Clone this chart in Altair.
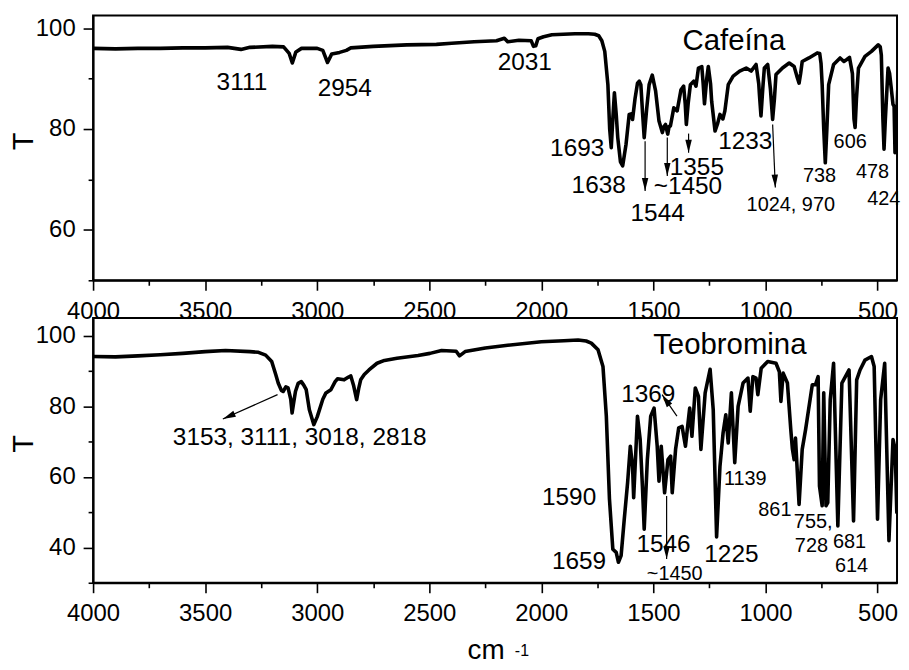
import altair as alt
import pandas as pd

FONT = "Liberation Sans"

# ---------------- data ----------------
caf_wn = [4000, 3900, 3800, 3700, 3600, 3500, 3400, 3340, 3300, 3200, 3150, 3125, 3111, 3095, 3070,
          3000, 2975, 2954, 2935, 2900, 2870, 2850, 2750, 2600, 2468, 2400, 2300, 2200, 2165, 2150,
          2100, 2045, 2035, 2025, 2015, 1990, 1953, 1850, 1790, 1762, 1744, 1730, 1717, 1703, 1695,
          1688, 1681, 1674, 1666, 1659, 1647, 1637, 1629, 1622, 1608, 1600, 1593, 1582, 1571, 1563,
          1556, 1548, 1541, 1530, 1519, 1505, 1490, 1475, 1460, 1453, 1446, 1436, 1430, 1424, 1409,
          1394, 1377, 1365, 1358, 1353, 1345, 1335, 1320, 1310, 1299, 1284, 1278, 1272, 1262, 1255,
          1245, 1240, 1225, 1214, 1203, 1190, 1181, 1166, 1144, 1115, 1086, 1064, 1042, 1030, 1027,
          1020, 1012, 1005, 990, 978, 968, 960, 953, 924, 894, 872, 860, 850, 843, 836,
          806, 769, 758, 752, 747, 740, 733, 726, 718, 696, 667, 650, 637, 625, 612,
          605, 600, 594, 585, 556, 527, 497, 488, 483, 476, 471, 465, 453, 446, 439,
          431, 426, 422, 416, 410]
caf_T = [96.0, 95.9, 96.0, 96.0, 96.1, 96.1, 96.2, 95.8, 96.2, 96.4, 96.3, 95.0, 93.1, 95.3, 96.0,
         96.0, 95.6, 93.2, 94.9, 95.2, 95.6, 96.1, 96.4, 96.7, 96.8, 97.0, 97.3, 97.5, 98.0, 97.3,
         97.6, 97.5, 96.4, 96.5, 97.9, 98.3, 98.7, 98.9, 98.9, 98.8, 98.5, 97.5, 95.4, 88.8, 80.0,
         76.3, 82.0, 87.2, 83.0, 78.3, 73.5, 72.7, 75.0, 77.0, 82.9, 83.0, 81.9, 86.0, 89.1, 89.5,
         88.8, 83.0, 78.3, 84.0, 88.8, 90.7, 87.5, 81.6, 79.3, 80.5, 80.9, 79.0, 80.5, 80.6, 84.2,
         83.6, 87.8, 88.5, 85.0, 80.9, 85.0, 88.8, 89.5, 88.5, 92.1, 92.4, 89.0, 85.0, 90.0, 92.4,
         89.0, 85.5, 79.6, 81.0, 82.9, 82.0, 83.6, 88.8, 90.5, 91.5, 92.1, 91.5, 92.8, 89.0, 86.9,
         82.6, 88.0, 92.1, 92.8, 88.0, 81.9, 86.0, 90.8, 92.1, 93.1, 92.4, 90.5, 89.1, 91.0, 93.4,
         94.1, 95.1, 95.0, 93.0, 88.8, 80.0, 73.3, 80.0, 88.8, 92.8, 94.1, 93.4, 93.8, 94.2, 91.0,
         82.0, 80.3, 86.0, 92.1, 94.4, 95.4, 96.7, 96.3, 94.7, 82.0, 76.0, 82.0, 92.1, 91.0, 88.2,
         84.9, 84.5, 75.3, 80.0, 87.7]

teo_wn = [4000, 3900, 3800, 3700, 3600, 3500, 3409, 3300, 3262, 3230, 3203, 3185, 3174, 3160, 3152,
          3140, 3130, 3118, 3112, 3105, 3097, 3085, 3071, 3060, 3049, 3035, 3015, 3000, 2990, 2975,
          2961, 2939, 2920, 2909, 2880, 2860, 2850, 2838, 2824, 2815, 2806, 2790, 2769, 2733, 2700,
          2644, 2550, 2497, 2445, 2380, 2365, 2340, 2250, 2150, 2000, 1900, 1836, 1800, 1777, 1747,
          1725, 1710, 1696, 1681, 1666, 1656, 1644, 1630, 1615, 1603, 1593, 1588, 1580, 1571, 1559,
          1549, 1541, 1527, 1512, 1497, 1483, 1475, 1465, 1450, 1435, 1423, 1416, 1401, 1387, 1372,
          1357, 1338, 1328, 1313, 1299, 1288, 1269, 1247, 1233, 1218, 1203, 1189, 1177, 1166, 1152,
          1137, 1122, 1100, 1078, 1068, 1056, 1042, 1034, 1019, 990, 953, 938, 931, 921, 902,
          887, 880, 872, 866, 850, 836, 821, 791, 777, 765, 759, 747, 740, 730, 722,
          711, 696, 677, 659, 627, 607, 593, 578, 556, 527, 515, 500, 486, 468, 449,
          431, 421, 414, 405]
teo_T = [94.1, 94.0, 94.3, 94.6, 95.0, 95.5, 95.8, 95.5, 95.3, 94.5, 92.7, 89.0, 86.6, 84.5, 84.2,
         85.5, 85.2, 82.0, 78.1, 81.0, 84.2, 86.5, 87.0, 86.0, 84.7, 79.0, 74.8, 77.0, 79.0, 82.0,
         83.8, 84.7, 87.0, 87.8, 87.5, 88.3, 88.6, 86.0, 81.9, 85.0, 87.5, 89.0, 90.3, 92.2, 93.0,
         93.6, 94.4, 95.0, 95.8, 95.6, 94.3, 95.5, 96.5, 97.3, 98.3, 98.6, 98.8, 98.5, 97.9, 96.0,
         91.3, 77.2, 53.7, 39.5, 38.6, 35.8, 37.7, 48.0, 58.4, 68.7, 63.0, 54.1, 65.0, 77.2, 70.6,
         57.4, 45.2, 64.9, 77.2, 79.5, 68.7, 58.8, 68.7, 55.5, 64.9, 65.9, 55.5, 67.8, 73.9, 74.3,
         68.7, 79.5, 71.5, 85.2, 82.8, 67.8, 83.8, 90.5, 79.0, 43.0, 63.0, 72.5, 77.6, 69.6, 83.8,
         64.0, 80.0, 86.6, 88.0, 78.6, 88.4, 88.0, 83.3, 90.8, 92.7, 92.2, 89.8, 81.4, 89.4, 86.6,
         73.4, 68.0, 64.9, 71.0, 52.2, 67.8, 73.4, 86.1, 86.1, 88.4, 57.4, 51.8, 83.8, 51.8, 52.7,
         81.9, 92.2, 46.1, 86.6, 90.3, 47.5, 87.5, 90.3, 93.1, 94.1, 91.3, 48.0, 81.9, 92.2, 41.9,
         70.6, 67.8, 49.9, 77.2]

x_major = [4000, 3500, 3000, 2500, 2000, 1500, 1000, 500]
x_minor = [3750, 3250, 2750, 2250, 1750, 1250, 750]

caf_y_domain = [50, 102.5]
caf_y_major = [60, 80, 100]
caf_y_minor = [50, 70, 90]
teo_y_domain = [30, 105]
teo_y_major = [40, 60, 80, 100]
teo_y_minor = [30, 50, 70, 90]

caf_lab_text = ["3111", "2954", "2031", "Cafeína", "1693", "1638", "1544", "1355", "~1450", "1233",
                "1024, 970", "738", "606", "478", "424"]
caf_lab_wn = [3336, 2877, 2074, 1141, 1840, 1744, 1481, 1306, 1346, 1090, 887, 759, 622, 522, 472]
caf_lab_T = [89.1, 88.0, 93.1, 97.5, 76.1, 68.6, 63.2, 72.2, 68.4, 77.5, 65.0, 70.7, 77.5, 71.4, 66.1]
caf_lab_size = [24.5, 24.5, 24.5, 29.5, 24.5, 24.5, 24.5, 24.5, 24.5, 24.5, 20, 20, 20, 20, 20]

caf_arr_wn1 = [1537, 1438, 1343, 968]
caf_arr_T1 = [77.6, 78.3, 79.1, 80.9]
caf_arr_wn2 = [1537, 1438, 1343, 956]
caf_arr_T2 = [67.7, 70.7, 75.3, 68.4]
caf_arr_angle = [0, 0, 0, 357.6]

teo_lab_text = ["Teobromina", "3153, 3111, 3018, 2818", "1369", "1590", "1659", "1546", "~1450",
                "1225", "1139", "861", "755,", "728", "681", "614"]
teo_lab_wn = [1159, 3078, 1523, 1876, 1832, 1455, 1405, 1152, 1090, 958, 787, 795, 625, 616]
teo_lab_T = [97.4, 71.1, 83.3, 53.9, 35.8, 40.7, 32.5, 37.9, 59.3, 50.6, 47.3, 40.3, 41.6, 34.8]
teo_lab_size = [29.5, 24.5, 24.5, 24.5, 24.5, 24.5, 20, 24.5, 20, 20, 20, 20, 20, 20]

teo_arr_wn1 = [3177, 1395, 1441]
teo_arr_T1 = [83.3, 77.2, 54.6]
teo_arr_wn2 = [3421, 1461, 1441]
teo_arr_T2 = [76.4, 83.3, 36.7]
teo_arr_angle = [66, 145.4, 0]

X_DOMAIN = [4000, 413]
HEAD = "M-0.25,-1L0.25,-1L0,0Z"


def panel(wn, T, ydom, ymaj, ymin, lt, lw, lT, ls, aw1, aT1, aw2, aT2, aang, xtitle=False):
    df = pd.DataFrame({"wn": wn, "T": T})
    xs = alt.Scale(domain=X_DOMAIN, nice=False, zero=False)
    ys = alt.Scale(domain=ydom, nice=False, zero=False)

    line = alt.Chart(df).mark_line(color="black", strokeWidth=3.6, clip=True,
                                   strokeJoin="round").encode(
        x=alt.X("wn:Q", scale=xs, axis=alt.Axis(
            orient="bottom", values=x_major, tickSize=10, labelPadding=9, title=None,
            format="d", labelFlush=False, labelOverlap=False)),
        y=alt.Y("T:Q", scale=ys, axis=alt.Axis(
            orient="left", values=ymaj, tickSize=10, labelPadding=8, title="T",
            titleX=-70, titleY=126, titleAngle=270, titleAlign="center",
            titleBaseline="middle", titleFontSize=29, titleFontWeight="normal",
            format="d", labelFlush=False)),
    )
    minor = alt.Chart(df).mark_line(opacity=0, clip=True).encode(
        x=alt.X("wn:Q", scale=xs, axis=alt.Axis(
            orient="bottom", values=x_minor, tickSize=5, labels=False, domain=False, title=None)),
        y=alt.Y("T:Q", scale=ys, axis=alt.Axis(
            orient="left", values=ymin, tickSize=5, labels=False, domain=False, title=None)),
    )
    ldf = pd.DataFrame({"text": lt, "wn": lw, "T": lT, "size": ls})
    labels = alt.Chart(ldf).mark_text(font=FONT, color="black", align="center",
                                      baseline="middle").encode(
        x=alt.X("wn:Q", scale=xs, axis=None),
        y=alt.Y("T:Q", scale=ys, axis=None),
        text="text:N",
        size=alt.Size("size:Q", scale=None, legend=None),
    )
    adf = pd.DataFrame({"wn1": aw1, "T1": aT1, "wn2": aw2, "T2": aT2, "angle": aang})
    shafts = alt.Chart(adf).mark_rule(color="black", strokeWidth=1.2).encode(
        x=alt.X("wn1:Q", scale=xs, axis=None),
        y=alt.Y("T1:Q", scale=ys, axis=None),
        x2="wn2:Q",
        y2="T2:Q",
    )
    heads = alt.Chart(adf).mark_point(shape=HEAD, filled=True, color="black", opacity=1,
                                      size=676, strokeWidth=0).encode(
        x=alt.X("wn2:Q", scale=xs, axis=None),
        y=alt.Y("T2:Q", scale=ys, axis=None),
        angle=alt.Angle("angle:Q", scale=None),
    )
    layers = [line, minor, labels, shafts, heads]
    if xtitle:
        tdf = pd.DataFrame({"t": ["cm"], "s": ["-1"]})
        cm = alt.Chart(tdf).mark_text(font=FONT, fontSize=28, align="center",
                                      baseline="alphabetic", color="black").encode(
            x=alt.value(395), y=alt.value(343), text="t:N")
        sup = alt.Chart(tdf).mark_text(font=FONT, fontSize=16, align="center",
                                       baseline="alphabetic", color="black").encode(
            x=alt.value(431), y=alt.value(340), text="s:N")
        layers += [cm, sup]
    return alt.layer(*layers).resolve_axis(x="independent", y="independent").properties(
        width=808, height=266)


top = panel(caf_wn, caf_T, caf_y_domain, caf_y_major, caf_y_minor,
            caf_lab_text, caf_lab_wn, caf_lab_T, caf_lab_size,
            caf_arr_wn1, caf_arr_T1, caf_arr_wn2, caf_arr_T2, caf_arr_angle)
bottom = panel(teo_wn, teo_T, teo_y_domain, teo_y_major, teo_y_minor,
               teo_lab_text, teo_lab_wn, teo_lab_T, teo_lab_size,
               teo_arr_wn1, teo_arr_T1, teo_arr_wn2, teo_arr_T2, teo_arr_angle, xtitle=True)

chart = alt.vconcat(top, bottom, spacing=38, bounds="flush").properties(
    padding={"left": 0.5, "top": 5, "right": -1, "bottom": -7}
).configure_view(
    stroke="black", strokeWidth=2
).configure_axis(
    labelFont=FONT, titleFont=FONT, labelFontSize=24, labelColor="black",
    titleColor="black", domainColor="black", domainWidth=2, tickColor="black",
    tickWidth=1.6, grid=False
)

chart.save("out.html", embed_options={"renderer": "svg", "actions": False})
